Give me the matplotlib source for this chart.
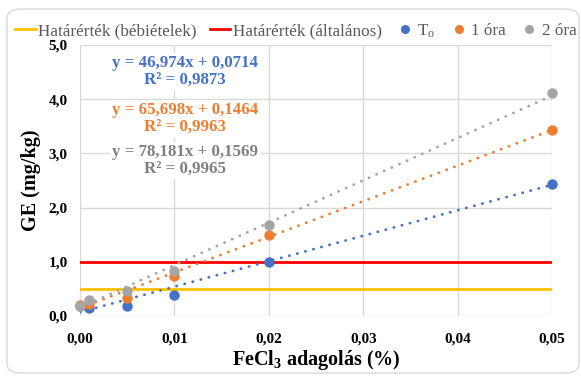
import matplotlib
matplotlib.use("Agg")
import matplotlib.pyplot as plt
from matplotlib.lines import Line2D
from matplotlib.patches import FancyBboxPatch
from matplotlib.ticker import FuncFormatter
import numpy as np

# FeCl3 dose (%) and measured GE (mg/kg)
dose = [0.0, 0.001, 0.005, 0.01, 0.02, 0.05]
ge_t0 = [0.19, 0.15, 0.19, 0.38, 1.00, 2.44]
ge_1h = [0.20, 0.23, 0.33, 0.74, 1.50, 3.43]
ge_2h = [0.19, 0.30, 0.46, 0.83, 1.67, 4.12]

series_names = ["T$_\\mathrm{o}$", "1 óra", "2 óra"]
series_colors = ["#4472C4", "#ED7D31", "#A5A5A5"]
eq_colors = ["#4472C4", "#ED7D31", "#7F7F7F"]

# Linear trend fits
slopes = [46.974, 65.698, 78.181]
intercepts = [0.0714, 0.1464, 0.1569]
r_squared = [0.9873, 0.9963, 0.9965]

# Limit values
limit_baby = 0.5
limit_general = 1.0
limit_names = ["Határérték (bébiételek)", "Határérték (általános)"]
limit_colors = ["#FFC000", "#FF0000"]

x_ticks = [0.0, 0.01, 0.02, 0.03, 0.04, 0.05]
y_ticks = [0.0, 1.0, 2.0, 3.0, 4.0, 5.0]

plt.rcParams["font.family"] = ["Liberation Serif", "DejaVu Serif"]
plt.rcParams["mathtext.fontset"] = "custom"
plt.rcParams["mathtext.rm"] = "Liberation Serif"
plt.rcParams["mathtext.bf"] = "Liberation Serif:bold"
plt.rcParams["mathtext.it"] = "Liberation Serif:italic"

fig = plt.figure(figsize=(5.81, 3.76), dpi=100)
fig.patch.set_facecolor("white")

# rounded chart frame
frame = FancyBboxPatch((7 / 581, 3 / 376), (579 - 7) / 581, (367 - 3) / 376,
                       boxstyle="round,pad=0,rounding_size=0.025",
                       transform=fig.transFigure, facecolor="white",
                       edgecolor="#D9D9D9", linewidth=1.0, zorder=-10)
fig.patches.append(frame)

ax = fig.add_axes([80 / 581, 1 - 316 / 376, (552 - 80) / 581, (316 - 45) / 376])
ax.set_facecolor("none")
ax.set_xlim(0, 0.05)
ax.set_ylim(0, 5)
ax.set_xticks(x_ticks)
ax.set_yticks(y_ticks)
ax.grid(True, color="#D9D9D9", linewidth=1.0, zorder=0)
ax.set_axisbelow(True)
for s in ax.spines.values():
    s.set_visible(False)
ax.tick_params(length=0, labelsize=11, pad=12)
ax.tick_params(axis="y", pad=9)
for lab in ax.get_xticklabels() + ax.get_yticklabels():
    lab.set_fontweight("bold")
ax.xaxis.set_major_formatter(FuncFormatter(lambda v, p: f"{v:.2f}".replace(".", ",")))
ax.yaxis.set_major_formatter(FuncFormatter(lambda v, p: f"{v:.1f}".replace(".", ",")))

ax.set_xlabel("FeCl$_\\mathbf{3}$ adagolás (%)", fontsize=14.5, fontweight="bold", labelpad=2)
ax.set_ylabel("GE (mg/kg)", fontsize=14.5, fontweight="bold", labelpad=5)

# limit lines
ax.axhline(limit_baby, color=limit_colors[0], linewidth=2.0, zorder=2)
ax.axhline(limit_general, color=limit_colors[1], linewidth=2.0, zorder=2)

# trend lines and points
xs = np.array([0.0, 0.05])
for k, vals in enumerate([ge_t0, ge_1h, ge_2h]):
    ax.plot(xs, slopes[k] * xs + intercepts[k], color=series_colors[k],
            linewidth=2.0, linestyle=(0, (0.1, 2.9)), dash_capstyle="round",
            zorder=3)
for k, vals in enumerate([ge_t0, ge_1h, ge_2h]):
    ax.plot(dose, vals, "o", color=series_colors[k], markersize=7.5,
            markeredgewidth=0, clip_on=False, zorder=4)

# equations
for k in range(3):
    txt = (f"y = {slopes[k]:.3f}x + {intercepts[k]:.4f}".replace(".", ",")
           + "\n" + f"R² = {r_squared[k]:.4f}".replace(".", ","))
    ax.text(0.222, [0.902, 0.729, 0.573][k], txt, transform=ax.transAxes,
            ha="center", va="center", fontsize=12.2, fontweight="bold",
            color=eq_colors[k], linespacing=1.1, zorder=5,
            bbox=dict(facecolor="white", edgecolor="none", pad=1.5))

# legend
handles = [
    Line2D([], [], color=limit_colors[0], linewidth=2),
    Line2D([], [], color=limit_colors[1], linewidth=2),
    Line2D([], [], linestyle="none", marker="o", color=series_colors[0], markersize=6.5, markeredgewidth=0),
    Line2D([], [], linestyle="none", marker="o", color=series_colors[1], markersize=6.5, markeredgewidth=0),
    Line2D([], [], linestyle="none", marker="o", color=series_colors[2], markersize=6.5, markeredgewidth=0),
]
labels = limit_names + series_names
leg = fig.legend(handles, labels, loc="center", bbox_to_anchor=(296 / 581, 1 - 31 / 376),
                 ncol=5, frameon=False, fontsize=12.3, handlelength=1.2,
                 handletextpad=0.15, columnspacing=0.75, borderaxespad=0)
for t in leg.get_texts():
    t.set_color("#595959")

fig.savefig("out.png", dpi=100, facecolor="white")
